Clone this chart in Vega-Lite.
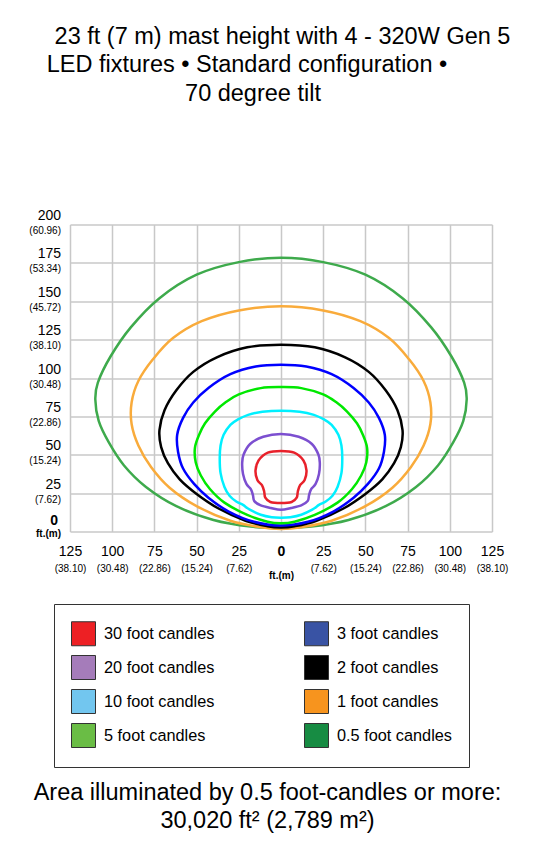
{
"$schema": "https://vega.github.io/schema/vega-lite/v6.json",
"width": 422, "height": 307,
"autosize": {"type": "none"},
"padding": {"left": 70, "top": 224.5, "right": 43, "bottom": 309.5},
"background": "white",
"config": {"view": {"stroke": null}, "font": "Liberation Sans"},
"title": {
  "text": "23 ft (7 m) mast height with 4 - 320W Gen 5",
  "font": "Liberation Sans", "fontSize": 23.5, "fontWeight": "normal", "color": "#000000",
  "anchor": "middle", "frame": "group", "dx": 1.5, "offset": 4.7
},
"datasets": {
"contours": [
{"c":"0.5","o":0,"x":0,"y":178.3},{"c":"0.5","o":1,"x":-25,"y":175.5},{"c":"0.5","o":2,"x":-50,"y":167.3},{"c":"0.5","o":3,"x":-72,"y":152},{"c":"0.5","o":4,"x":-89,"y":133},{"c":"0.5","o":5,"x":-101,"y":114},{"c":"0.5","o":6,"x":-108.5,"y":97},{"c":"0.5","o":7,"x":-110,"y":86},{"c":"0.5","o":8,"x":-108,"y":72},{"c":"0.5","o":9,"x":-102,"y":58},{"c":"0.5","o":10,"x":-93,"y":43},{"c":"0.5","o":11,"x":-80,"y":29},{"c":"0.5","o":12,"x":-62,"y":16.5},{"c":"0.5","o":13,"x":-40,"y":7.5},{"c":"0.5","o":14,"x":-18,"y":3.2},{"c":"0.5","o":15,"x":0,"y":2.3},{"c":"0.5","o":16,"x":18,"y":3.2},{"c":"0.5","o":17,"x":40,"y":7.5},{"c":"0.5","o":18,"x":62,"y":16.5},{"c":"0.5","o":19,"x":80,"y":29},{"c":"0.5","o":20,"x":93,"y":43},{"c":"0.5","o":21,"x":102,"y":58},{"c":"0.5","o":22,"x":108,"y":72},{"c":"0.5","o":23,"x":110,"y":86},{"c":"0.5","o":24,"x":108.5,"y":97},{"c":"0.5","o":25,"x":101,"y":114},{"c":"0.5","o":26,"x":89,"y":133},{"c":"0.5","o":27,"x":72,"y":152},{"c":"0.5","o":28,"x":50,"y":167.3},{"c":"0.5","o":29,"x":25,"y":175.5},
{"c":"1","o":0,"x":0,"y":146.7},{"c":"1","o":1,"x":-25,"y":144},{"c":"1","o":2,"x":-47,"y":137},{"c":"1","o":3,"x":-64,"y":126},{"c":"1","o":4,"x":-76,"y":112},{"c":"1","o":5,"x":-84.5,"y":98},{"c":"1","o":6,"x":-88.5,"y":84},{"c":"1","o":7,"x":-88.5,"y":70},{"c":"1","o":8,"x":-84.5,"y":56},{"c":"1","o":9,"x":-77,"y":42},{"c":"1","o":10,"x":-66,"y":28.5},{"c":"1","o":11,"x":-50,"y":16.5},{"c":"1","o":12,"x":-30,"y":7},{"c":"1","o":13,"x":-12,"y":2.8},{"c":"1","o":14,"x":0,"y":1.7},{"c":"1","o":15,"x":12,"y":2.8},{"c":"1","o":16,"x":30,"y":7},{"c":"1","o":17,"x":50,"y":16.5},{"c":"1","o":18,"x":66,"y":28.5},{"c":"1","o":19,"x":77,"y":42},{"c":"1","o":20,"x":84.5,"y":56},{"c":"1","o":21,"x":88.5,"y":70},{"c":"1","o":22,"x":88.5,"y":84},{"c":"1","o":23,"x":84.5,"y":98},{"c":"1","o":24,"x":76,"y":112},{"c":"1","o":25,"x":64,"y":126},{"c":"1","o":26,"x":47,"y":137},{"c":"1","o":27,"x":25,"y":144},
{"c":"2","o":0,"x":0,"y":121.7},{"c":"2","o":1,"x":-20,"y":120},{"c":"2","o":2,"x":-38,"y":113.5},{"c":"2","o":3,"x":-52,"y":104},{"c":"2","o":4,"x":-62,"y":92},{"c":"2","o":5,"x":-69,"y":79},{"c":"2","o":6,"x":-72,"y":66},{"c":"2","o":7,"x":-71,"y":55},{"c":"2","o":8,"x":-67,"y":44.5},{"c":"2","o":9,"x":-60,"y":34},{"c":"2","o":10,"x":-50,"y":24.5},{"c":"2","o":11,"x":-37,"y":15},{"c":"2","o":12,"x":-21,"y":7},{"c":"2","o":13,"x":-8,"y":3.4},{"c":"2","o":14,"x":0,"y":2.6},{"c":"2","o":15,"x":8,"y":3.4},{"c":"2","o":16,"x":21,"y":7},{"c":"2","o":17,"x":37,"y":15},{"c":"2","o":18,"x":50,"y":24.5},{"c":"2","o":19,"x":60,"y":34},{"c":"2","o":20,"x":67,"y":44.5},{"c":"2","o":21,"x":71,"y":55},{"c":"2","o":22,"x":72,"y":66},{"c":"2","o":23,"x":69,"y":79},{"c":"2","o":24,"x":62,"y":92},{"c":"2","o":25,"x":52,"y":104},{"c":"2","o":26,"x":38,"y":113.5},{"c":"2","o":27,"x":20,"y":120},
{"c":"3","o":0,"x":0,"y":108.7},{"c":"3","o":1,"x":-15,"y":107.5},{"c":"3","o":2,"x":-30,"y":102.5},{"c":"3","o":3,"x":-43,"y":93.5},{"c":"3","o":4,"x":-52,"y":84},{"c":"3","o":5,"x":-58,"y":74},{"c":"3","o":6,"x":-61.5,"y":63},{"c":"3","o":7,"x":-61,"y":52},{"c":"3","o":8,"x":-58,"y":41},{"c":"3","o":9,"x":-51.5,"y":31},{"c":"3","o":10,"x":-43,"y":22},{"c":"3","o":11,"x":-31,"y":13},{"c":"3","o":12,"x":-16,"y":6.3},{"c":"3","o":13,"x":0,"y":3.9},{"c":"3","o":14,"x":16,"y":6.3},{"c":"3","o":15,"x":31,"y":13},{"c":"3","o":16,"x":43,"y":22},{"c":"3","o":17,"x":51.5,"y":31},{"c":"3","o":18,"x":58,"y":41},{"c":"3","o":19,"x":61,"y":52},{"c":"3","o":20,"x":61.5,"y":63},{"c":"3","o":21,"x":58,"y":74},{"c":"3","o":22,"x":52,"y":84},{"c":"3","o":23,"x":43,"y":93.5},{"c":"3","o":24,"x":30,"y":102.5},{"c":"3","o":25,"x":15,"y":107.5},
{"c":"5","o":0,"x":0,"y":94.1},{"c":"5","o":1,"x":-12,"y":93.4},{"c":"5","o":2,"x":-25,"y":89.3},{"c":"5","o":3,"x":-33,"y":84},{"c":"5","o":4,"x":-39,"y":78.3},{"c":"5","o":5,"x":-45,"y":70.5},{"c":"5","o":6,"x":-48.5,"y":63},{"c":"5","o":7,"x":-51,"y":54.5},{"c":"5","o":8,"x":-50.5,"y":45},{"c":"5","o":9,"x":-47.5,"y":36.5},{"c":"5","o":10,"x":-42,"y":27.5},{"c":"5","o":11,"x":-33.5,"y":18.8},{"c":"5","o":12,"x":-20,"y":10.8},{"c":"5","o":13,"x":-8,"y":6.4},{"c":"5","o":14,"x":0,"y":5.4},{"c":"5","o":15,"x":8,"y":6.4},{"c":"5","o":16,"x":20,"y":10.8},{"c":"5","o":17,"x":33.5,"y":18.8},{"c":"5","o":18,"x":42,"y":27.5},{"c":"5","o":19,"x":47.5,"y":36.5},{"c":"5","o":20,"x":50.5,"y":45},{"c":"5","o":21,"x":51,"y":54.5},{"c":"5","o":22,"x":48.5,"y":63},{"c":"5","o":23,"x":45,"y":70.5},{"c":"5","o":24,"x":39,"y":78.3},{"c":"5","o":25,"x":33,"y":84},{"c":"5","o":26,"x":25,"y":89.3},{"c":"5","o":27,"x":12,"y":93.4},
{"c":"10","o":0,"x":0,"y":78.7},{"c":"10","o":1,"x":-11,"y":78},{"c":"10","o":2,"x":-19.5,"y":76},{"c":"10","o":3,"x":-25.5,"y":73},{"c":"10","o":4,"x":-30,"y":69.5},{"c":"10","o":5,"x":-34,"y":63},{"c":"10","o":6,"x":-35.8,"y":56},{"c":"10","o":7,"x":-36.3,"y":47.8},{"c":"10","o":8,"x":-35.8,"y":38},{"c":"10","o":9,"x":-33.5,"y":29},{"c":"10","o":10,"x":-30.5,"y":23.3},{"c":"10","o":11,"x":-26.5,"y":19.5},{"c":"10","o":12,"x":-22.5,"y":17.3},{"c":"10","o":13,"x":-18.5,"y":14.2},{"c":"10","o":14,"x":-12,"y":10.9},{"c":"10","o":15,"x":-5.5,"y":9.3},{"c":"10","o":16,"x":0,"y":9},{"c":"10","o":17,"x":5.5,"y":9.3},{"c":"10","o":18,"x":12,"y":10.9},{"c":"10","o":19,"x":18.5,"y":14.2},{"c":"10","o":20,"x":22.5,"y":17.3},{"c":"10","o":21,"x":26.5,"y":19.5},{"c":"10","o":22,"x":30.5,"y":23.3},{"c":"10","o":23,"x":33.5,"y":29},{"c":"10","o":24,"x":35.8,"y":38},{"c":"10","o":25,"x":36.3,"y":47.8},{"c":"10","o":26,"x":35.8,"y":56},{"c":"10","o":27,"x":34,"y":63},{"c":"10","o":28,"x":30,"y":69.5},{"c":"10","o":29,"x":25.5,"y":73},{"c":"10","o":30,"x":19.5,"y":76},{"c":"10","o":31,"x":11,"y":78},
{"c":"20","o":0,"x":0,"y":63.5},{"c":"20","o":1,"x":-10.5,"y":61.7},{"c":"20","o":2,"x":-18.3,"y":57},{"c":"20","o":3,"x":-22.2,"y":50},{"c":"20","o":4,"x":-23,"y":44.4},{"c":"20","o":5,"x":-22.5,"y":37.5},{"c":"20","o":6,"x":-20.5,"y":31},{"c":"20","o":7,"x":-17.8,"y":27.5},{"c":"20","o":8,"x":-16.6,"y":23.5},{"c":"20","o":9,"x":-15.8,"y":19.8},{"c":"20","o":10,"x":-12,"y":17},{"c":"20","o":11,"x":-6,"y":15.3},{"c":"20","o":12,"x":0,"y":14.2},{"c":"20","o":13,"x":6,"y":15.3},{"c":"20","o":14,"x":12,"y":17},{"c":"20","o":15,"x":15.8,"y":19.8},{"c":"20","o":16,"x":16.6,"y":23.5},{"c":"20","o":17,"x":17.8,"y":27.5},{"c":"20","o":18,"x":20.5,"y":31},{"c":"20","o":19,"x":22.5,"y":37.5},{"c":"20","o":20,"x":23,"y":44.4},{"c":"20","o":21,"x":22.2,"y":50},{"c":"20","o":22,"x":18.3,"y":57},{"c":"20","o":23,"x":10.5,"y":61.7},
{"c":"30","o":0,"x":0,"y":52.5},{"c":"30","o":1,"x":-7.8,"y":51.4},{"c":"30","o":2,"x":-13.3,"y":46.3},{"c":"30","o":3,"x":-15.1,"y":39.8},{"c":"30","o":4,"x":-14,"y":33.5},{"c":"30","o":5,"x":-11.3,"y":30.2},{"c":"30","o":6,"x":-10,"y":26.2},{"c":"30","o":7,"x":-9.3,"y":22},{"c":"30","o":8,"x":-6.3,"y":19.2},{"c":"30","o":9,"x":0,"y":18.5},{"c":"30","o":10,"x":6.3,"y":19.2},{"c":"30","o":11,"x":9.3,"y":22},{"c":"30","o":12,"x":10,"y":26.2},{"c":"30","o":13,"x":11.3,"y":30.2},{"c":"30","o":14,"x":14,"y":33.5},{"c":"30","o":15,"x":15.1,"y":39.8},{"c":"30","o":16,"x":13.3,"y":46.3},{"c":"30","o":17,"x":7.8,"y":51.4}
],
"legend": [
{"label":"30 foot candles","xv":0,"yv":100},{"label":"20 foot candles","xv":0,"yv":100},{"label":"10 foot candles","xv":0,"yv":100},{"label":"5 foot candles","xv":0,"yv":100},{"label":"3 foot candles","xv":0,"yv":100},{"label":"2 foot candles","xv":0,"yv":100},{"label":"1 foot candles","xv":0,"yv":100},{"label":"0.5 foot candles","xv":0,"yv":100}
]
},
"layer": [
{
  "data": {"name": "contours"},
  "mark": {"type": "line", "interpolate": "cardinal-closed", "strokeWidth": 2.5},
  "encoding": {
    "x": {"field": "x", "type": "quantitative", "scale": {"domain": [-125, 125], "nice": false, "zero": false},
      "axis": {"orient": "bottom", "title": null, "values": [-125,-100,-75,-50,-25,0,25,50,75,100,125],
        "labelExpr": "'' + abs(datum.value)", "grid": true, "gridColor": "#c8c8c8", "gridWidth": 1.5,
        "domain": false, "ticks": false, "tickSize": 0, "labelFont": "Liberation Sans", "labelFontSize": 14, "labelColor": "#000000",
        "labelFontWeight": {"condition": {"test": "datum.value == 0", "value": "bold"}, "value": "normal"},
        "labelBaseline": "top", "labelAlign": "center", "labelPadding": 13, "labelFlush": false, "labelOverlap": false}},
    "y": {"field": "y", "type": "quantitative", "scale": {"domain": [0, 200], "nice": false, "zero": false},
      "axis": {"orient": "left", "values": [0,25,50,75,100,125,150,175,200],
        "labelExpr": "'' + datum.value", "grid": true, "gridColor": "#c8c8c8", "gridWidth": 1.5,
        "domain": false, "ticks": false, "tickSize": 0, "labelFont": "Liberation Sans", "labelFontSize": 14, "labelColor": "#000000",
        "labelFontWeight": {"condition": {"test": "datum.value == 0", "value": "bold"}, "value": "normal"},
        "labelBaseline": "alphabetic", "labelAlign": "right",
        "labelOffset": {"condition": {"test": "datum.value == 0", "value": -7.5}, "value": -5},
        "labelPadding": {"condition": {"test": "datum.value == 0", "value": 12.5}, "value": 9.5},
        "labelFlush": false, "labelOverlap": false,
        "title": "LED fixtures • Standard configuration •",
        "titleFont": "Liberation Sans", "titleFontSize": 23.5, "titleFontWeight": "normal", "titleColor": "#000000",
        "titleAngle": 0, "titleX": 176.5, "titleY": -152.6, "titleAlign": "center", "titleBaseline": "alphabetic"}},
    "stroke": {"field": "c", "type": "nominal",
      "scale": {"domain": ["30","20","10","5","3","2","1","0.5"], "range": ["#e8212b","#7c4fd0","#00f0ff","#00e800","#0000ff","#000000","#f9ab3b","#3eaa4c"]},
      "legend": null},
    "order": {"field": "o", "type": "quantitative"}
  }
},
{
  "data": {"name": "legend"},
  "mark": {"type": "square", "opacity": 0},
  "encoding": {
    "x": {"field": "xv", "type": "quantitative", "scale": {"domain": [-125, 125], "nice": false, "zero": false},
      "axis": {"orient": "bottom", "values": [-125,-100,-75,-50,-25,0,25,50,75,100,125],
        "labelExpr": "datum.value == 0 ? 'ft.(m)' : '(' + format(abs(datum.value) * 0.3048, '.2f') + ')'",
        "grid": false, "domain": false, "ticks": false, "tickSize": 0, "labelFont": "Liberation Sans", "labelFontSize": 10, "labelColor": "#000000",
        "labelFontWeight": {"condition": {"test": "datum.value == 0", "value": "bold"}, "value": "normal"},
        "labelBaseline": "top", "labelAlign": "center",
        "labelPadding": {"condition": {"test": "datum.value == 0", "value": 38.5}, "value": 32},
        "labelFlush": false, "labelOverlap": false,
        "title": ["Area illuminated by 0.5 foot-candles or more:", "30,020 ft² (2,789 m²)"],
        "titleFont": "Liberation Sans", "titleFontSize": 23.5, "titleFontWeight": "normal", "titleColor": "#000000",
        "titleX": 197, "titleY": 267.5, "titleAlign": "center", "titleBaseline": "alphabetic", "titleLineHeight": 28.5}},
    "y": {"field": "yv", "type": "quantitative", "scale": {"domain": [0, 200], "nice": false, "zero": false},
      "axis": {"orient": "left", "values": [0,25,50,75,100,125,150,175,200],
        "labelExpr": "datum.value == 0 ? 'ft.(m)' : '(' + format(datum.value * 0.3048, '.2f') + ')'",
        "grid": false, "domain": false, "ticks": false, "tickSize": 0, "labelFont": "Liberation Sans", "labelFontSize": 10, "labelColor": "#000000",
        "labelFontWeight": {"condition": {"test": "datum.value == 0", "value": "bold"}, "value": "normal"},
        "labelBaseline": "alphabetic", "labelAlign": "right",
        "labelOffset": {"condition": {"test": "datum.value == 0", "value": 4.5}, "value": 9},
        "labelPadding": 9.5, "labelFlush": false, "labelOverlap": false,
        "title": "70 degree tilt",
        "titleFont": "Liberation Sans", "titleFontSize": 23.5, "titleFontWeight": "normal", "titleColor": "#000000",
        "titleAngle": 0, "titleX": 182.5, "titleY": -124.3, "titleAlign": "center", "titleBaseline": "alphabetic"}},
    "fill": {"field": "label", "type": "nominal",
      "scale": {"domain": ["30 foot candles","20 foot candles","10 foot candles","5 foot candles","3 foot candles","2 foot candles","1 foot candles","0.5 foot candles"],
        "range": ["#ed2024","#a57cba","#72c6ef","#6abd45","#3953a4","#000000","#f7941e","#178c43"]},
      "legend": {"title": null, "orient": "none", "legendX": -16, "legendY": 379.5, "columns": 2, "columnPadding": 87, "rowPadding": 5,
        "padding": 17, "strokeColor": "#333333", "fillColor": "#ffffff", "symbolType": "square", "symbolSize": 576,
        "symbolOpacity": 1, "symbolStrokeColor": "#333333", "symbolStrokeWidth": 1, "labelOffset": 8,
        "labelFont": "Liberation Sans", "labelFontSize": 16.3, "labelColor": "#000000", "labelLimit": 300}}
  }
}
],
"resolve": {"scale": {"x": "independent", "y": "independent"}}
}
